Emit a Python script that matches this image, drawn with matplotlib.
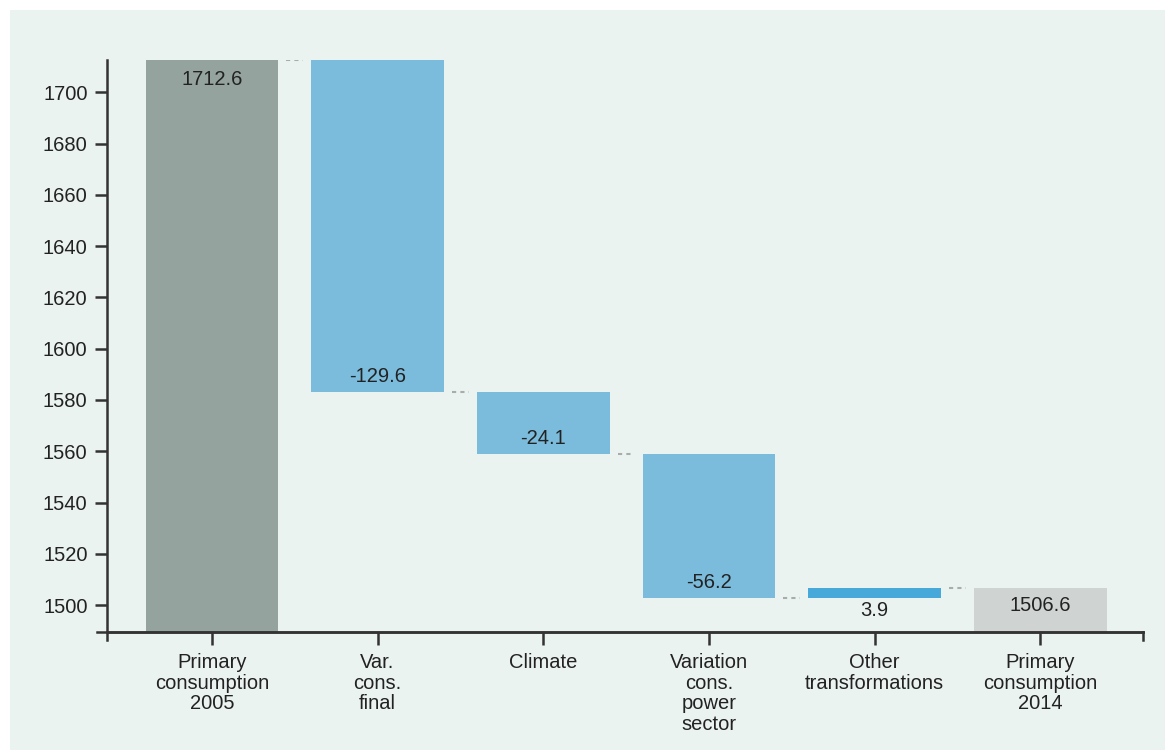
import matplotlib.pyplot as plt
from matplotlib.patches import Rectangle

# -------------------------------
# Data
# -------------------------------
categories = ["Primary\nconsumption\n2005", "Var.\ncons.\nfinal", "Climate",
              "Variation\ncons.\npower\nsector", "Other\ntransformations",
              "Primary\nconsumption\n2014"]
start_total = 1712.6
changes = [-129.6, -24.1, -56.2, 3.9]
end_total = 1506.6
yticks = [1500, 1520, 1540, 1560, 1580, 1600, 1620, 1640, 1660, 1680, 1700]

plt.rcParams["font.family"] = ["Liberation Sans", "DejaVu Sans"]

bg = "#EBF3F1"
fs = 14.5
txt = "#222222"
fig = plt.figure(figsize=(11.7, 7.55), dpi=100)
fig.patch.set_facecolor("white")
panel = Rectangle((10 / 1170, 5 / 755), 1155 / 1170, 740 / 755,
                  transform=fig.transFigure, facecolor=bg, edgecolor="none", zorder=0)
fig.add_artist(panel)

ax = fig.add_axes([107 / 1170, (755 - 632) / 755, (1143 - 107) / 1170, (632 - 60) / 755])
ax.set_zorder(1)
ax.patch.set_alpha(0)
ymin = 1489.5
ax.set_ylim(ymin, 1712.6)
ax.set_xlim(-0.633, 5.62)

w = 0.8
# first bar
ax.bar(0, start_total - ymin, bottom=ymin, width=w, color="#95A39E", zorder=2)
ax.text(0, start_total - 4.0, f"{start_total}", ha="center", va="top", fontsize=fs, color=txt)

level = start_total
prev_right = 0 + w / 2
for i, ch in enumerate(changes, start=1):
    new = level + ch
    col = "#7BBCDD" if ch < 0 else "#47A9D9"
    ax.bar(i, ch, bottom=level, width=w, color=col, zorder=2)
    # connector
    ax.plot([prev_right + 0.05, prev_right + 0.15], [level, level], color="#A8ADAB",
            lw=1.5, ls=(0, (2, 2)), zorder=1)
    if ch < 0:
        ax.text(i, new + 2.3, f"{ch}", ha="center", va="bottom", fontsize=fs, color=txt)
    else:
        ax.text(i, level - 1.0, f"{ch}", ha="center", va="top", fontsize=fs, color=txt)
    prev_right = i + w / 2
    level = new

ax.plot([prev_right + 0.05, prev_right + 0.15], [end_total, end_total], color="#A8ADAB",
        lw=1.5, ls=(0, (2, 2)), zorder=1)
ax.bar(5, end_total - ymin, bottom=ymin, width=w, color="#CFD3D1", zorder=2)
ax.text(5, end_total - 3.0, f"{end_total}", ha="center", va="top", fontsize=fs, color=txt)

# axes styling
for s in ["top", "right"]:
    ax.spines[s].set_visible(False)
for s in ["left", "bottom"]:
    ax.spines[s].set_color("#333333")
    ax.spines[s].set_linewidth(1.8)
    ax.spines[s].set_zorder(3)
ax.spines["left"].set_bounds(ymin - 3, 1712.6)
ax.set_yticks(yticks)
ax.set_yticklabels([str(t) for t in yticks], fontsize=fs, color=txt)
ax.set_xticks(range(len(categories)))
ax.set_xticklabels(categories, fontsize=fs, color=txt, linespacing=1.12)
ax.tick_params(axis="y", length=9, width=1.8, color="#333333", pad=5)
ax.tick_params(axis="x", length=9, width=1.8, color="#333333", pad=6)

# extend x-axis line to the left and tick at its right end
ax.plot([-0.693, 5.62], [ymin, ymin], color="#333333", lw=1.8, clip_on=False, zorder=3)
ax.plot([5.62, 5.62], [ymin, ymin - 3.2], color="#333333", lw=1.8, clip_on=False, zorder=3)

fig.savefig("out.png", dpi=100, facecolor=fig.get_facecolor())
